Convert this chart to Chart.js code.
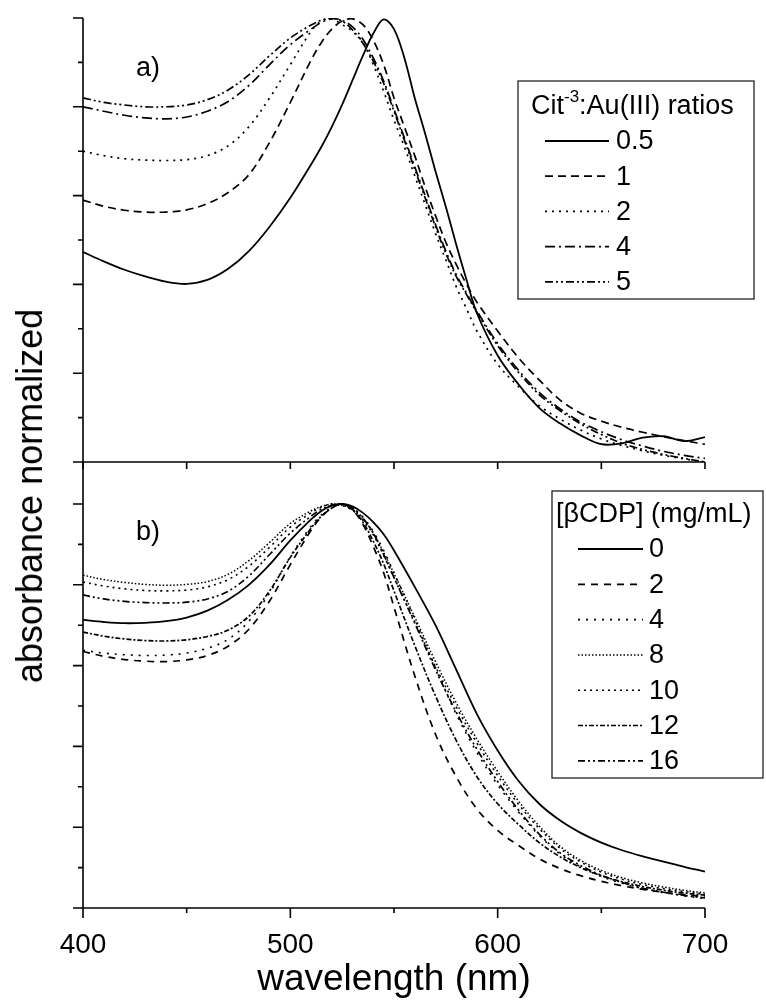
<!DOCTYPE html>
<html>
<head>
<meta charset="utf-8">
<script src="https://cdn.jsdelivr.net/npm/chart.js@4.4.1/dist/chart.umd.min.js"></script>
<style>
body { margin: 0; background: #fff; width: 766px; height: 1006px; overflow: hidden; position: relative; font-family: "Liberation Sans", Arial, sans-serif; }
#chartA { position: absolute; left: 0; top: 0; }
#chartB { position: absolute; left: 0; top: 462px; }
#ytitle { position: absolute; left: 30px; top: 496px; transform: translate(-50%, -50%) rotate(-90deg); font-size: 36px; white-space: nowrap; color: #000; }
</style>
</head>
<body>
<canvas id="chartA" width="766" height="470"></canvas>
<canvas id="chartB" width="766" height="544"></canvas>
<div id="ytitle">absorbance normalized</div>
<script>
// panel a) - citrate : gold ratio
const waveA = [400, 410, 420, 430, 440, 450, 460, 470, 480, 490, 500, 510, 515, 520, 525, 530, 535, 540, 545, 550, 555, 560, 565, 570, 575, 580, 585, 590, 600, 610, 620, 630, 640, 650, 660, 670, 680, 690, 700];
const ratio05 = [0.473, 0.452, 0.433, 0.418, 0.406, 0.401, 0.41, 0.435, 0.475, 0.53, 0.595, 0.67, 0.71, 0.755, 0.805, 0.86, 0.915, 0.965, 0.997, 0.975, 0.91, 0.82, 0.74, 0.655, 0.575, 0.49, 0.41, 0.335, 0.24, 0.175, 0.122, 0.087, 0.06, 0.04, 0.042, 0.055, 0.058, 0.047, 0.056];
const ratio1 = [0.59, 0.576, 0.567, 0.563, 0.563, 0.568, 0.582, 0.607, 0.647, 0.72, 0.81, 0.905, 0.945, 0.975, 0.993, 0.998, 0.985, 0.95, 0.895, 0.82, 0.755, 0.69, 0.62, 0.555, 0.495, 0.445, 0.40, 0.36, 0.295, 0.235, 0.185, 0.14, 0.11, 0.092, 0.078, 0.067, 0.057, 0.048, 0.04];
const ratio2 = [0.70, 0.69, 0.683, 0.68, 0.679, 0.681, 0.69, 0.712, 0.755, 0.82, 0.895, 0.97, 0.993, 0.998, 0.985, 0.97, 0.945, 0.895, 0.835, 0.77, 0.71, 0.645, 0.58, 0.515, 0.455, 0.395, 0.345, 0.295, 0.22, 0.17, 0.127, 0.097, 0.072, 0.052, 0.037, 0.025, 0.015, 0.007, 0.0];
const ratio4 = [0.80, 0.79, 0.781, 0.775, 0.773, 0.777, 0.79, 0.812, 0.848, 0.895, 0.94, 0.975, 0.99, 0.998, 0.995, 0.98, 0.952, 0.91, 0.858, 0.795, 0.73, 0.665, 0.60, 0.535, 0.475, 0.422, 0.38, 0.34, 0.267, 0.207, 0.157, 0.12, 0.09, 0.068, 0.05, 0.036, 0.024, 0.015, 0.008];
const ratio5 = [0.82, 0.81, 0.804, 0.80, 0.80, 0.804, 0.816, 0.838, 0.872, 0.915, 0.955, 0.984, 0.995, 1.0, 0.993, 0.973, 0.943, 0.903, 0.853, 0.79, 0.725, 0.66, 0.595, 0.53, 0.47, 0.418, 0.377, 0.337, 0.262, 0.202, 0.152, 0.116, 0.086, 0.062, 0.042, 0.028, 0.017, 0.008, 0.0];
const labelsA = ["0.5", "1", "2", "4", "5"];

// panel b) - bCDP concentration
const waveB = [400, 410, 420, 430, 440, 450, 460, 470, 480, 490, 500, 510, 515, 520, 525, 530, 535, 540, 545, 550, 560, 570, 580, 590, 600, 610, 620, 630, 640, 650, 660, 670, 680, 690, 700];
const cdp0 = [0.713, 0.708, 0.705, 0.706, 0.71, 0.719, 0.736, 0.763, 0.80, 0.85, 0.91, 0.962, 0.983, 0.996, 1.0, 0.994, 0.978, 0.955, 0.925, 0.885, 0.795, 0.70, 0.59, 0.48, 0.39, 0.315, 0.258, 0.217, 0.186, 0.162, 0.143, 0.128, 0.115, 0.102, 0.09];
const cdp2 = [0.635, 0.623, 0.615, 0.611, 0.61, 0.614, 0.625, 0.648, 0.69, 0.76, 0.85, 0.935, 0.968, 0.99, 1.0, 0.985, 0.95, 0.895, 0.83, 0.745, 0.575, 0.43, 0.325, 0.245, 0.192, 0.155, 0.122, 0.098, 0.08, 0.066, 0.055, 0.046, 0.039, 0.033, 0.028];
const cdp4 = [0.638, 0.631, 0.627, 0.625, 0.626, 0.631, 0.643, 0.665, 0.71, 0.78, 0.87, 0.945, 0.973, 0.992, 1.0, 0.99, 0.968, 0.932, 0.885, 0.83, 0.715, 0.595, 0.48, 0.385, 0.305, 0.238, 0.18, 0.134, 0.102, 0.078, 0.061, 0.048, 0.038, 0.03, 0.023];
const cdp8 = [0.824, 0.813, 0.806, 0.801, 0.799, 0.801, 0.808, 0.826, 0.86, 0.905, 0.952, 0.983, 0.994, 1.0, 0.997, 0.986, 0.963, 0.928, 0.88, 0.828, 0.72, 0.61, 0.508, 0.418, 0.338, 0.265, 0.203, 0.153, 0.118, 0.093, 0.075, 0.062, 0.052, 0.044, 0.037];
const cdp10 = [0.807, 0.797, 0.79, 0.786, 0.785, 0.787, 0.795, 0.813, 0.846, 0.893, 0.943, 0.978, 0.992, 1.0, 0.996, 0.984, 0.96, 0.924, 0.873, 0.818, 0.708, 0.598, 0.498, 0.408, 0.328, 0.257, 0.197, 0.148, 0.114, 0.089, 0.071, 0.058, 0.048, 0.041, 0.034];
const cdp12 = [0.683, 0.673, 0.666, 0.662, 0.661, 0.664, 0.672, 0.688, 0.722, 0.785, 0.868, 0.94, 0.97, 0.99, 1.0, 0.986, 0.955, 0.908, 0.852, 0.785, 0.65, 0.525, 0.415, 0.325, 0.258, 0.207, 0.162, 0.127, 0.10, 0.08, 0.065, 0.053, 0.044, 0.037, 0.032];
const cdp16 = [0.775, 0.765, 0.759, 0.756, 0.755, 0.757, 0.765, 0.784, 0.822, 0.875, 0.928, 0.97, 0.987, 0.997, 1.0, 0.99, 0.965, 0.928, 0.875, 0.818, 0.705, 0.59, 0.485, 0.393, 0.313, 0.243, 0.183, 0.137, 0.105, 0.081, 0.063, 0.049, 0.039, 0.031, 0.025];
const labelsB = ["0", "2", "4", "8", "10", "12", "16"];

const xTicks = [400, 450, 500, 550, 600, 650, 700];
const xLabels = [400, 500, 600, 700];

const FONT = '"Liberation Sans", Arial, sans-serif';
Chart.defaults.font.family = FONT;
Chart.defaults.color = '#000';

function lines(wave, series, labels, dashes, width) {
    return series.map((s, i) => ({
        label: labels[i],
        data: wave.map((w, j) => ({ x: w, y: s[j] })),
        borderColor: '#000',
        borderWidth: width[i],
        borderDash: dashes[i],
        pointRadius: 0,
        fill: false,
        tension: 0.35
    }));
}

// axes, ticks, legend box and panel tag
const framePlugin = {
    id: 'frame',
    afterDraw(chart, args, o) {
        const ctx = chart.ctx, xs = chart.scales.x, ys = chart.scales.y, a = chart.chartArea;
        ctx.save();
        ctx.strokeStyle = '#000';
        ctx.lineWidth = 1.6;
        ctx.setLineDash([]);
        ctx.beginPath();
        ctx.moveTo(a.left, a.top);
        ctx.lineTo(a.left, a.bottom);
        ctx.lineTo(a.right, a.bottom);
        for (let k = 0; k <= 10; k++) {
            const y = ys.getPixelForValue(k / 10);
            ctx.moveTo(a.left, y);
            ctx.lineTo(a.left - (k % 2 === 0 ? 10 : 5), y);
        }
        xTicks.forEach(w => {
            const x = xs.getPixelForValue(w);
            ctx.moveTo(x, a.bottom);
            ctx.lineTo(x, a.bottom + o.xTickLen(w));
        });
        ctx.stroke();

        const L = o.legend;
        ctx.lineWidth = 1.3;
        ctx.strokeStyle = '#222';
        ctx.strokeRect(L.left, L.top, L.right - L.left, L.bottom - L.top);
        ctx.fillStyle = '#000';
        ctx.textBaseline = 'middle';
        ctx.textAlign = 'left';
        let tx = L.titleX;
        L.title.forEach(p => {
            ctx.font = (p.sup ? 17 : L.size) + 'px ' + FONT;
            ctx.fillText(p.t, tx, p.sup ? L.titleY - 10 : L.titleY);
            tx += ctx.measureText(p.t).width;
        });
        ctx.font = L.size + 'px ' + FONT;
        chart.data.datasets.forEach((ds, i) => {
            const y = L.rowY + i * L.rowH;
            ctx.lineWidth = ds.borderWidth;
            ctx.strokeStyle = '#000';
            ctx.setLineDash(ds.borderDash);
            ctx.beginPath();
            ctx.moveTo(L.lineX0, y);
            ctx.lineTo(L.lineX1, y);
            ctx.stroke();
            ctx.fillText(ds.label, L.textX, y + 1);
        });
        ctx.setLineDash([]);
        ctx.font = '27px ' + FONT;
        ctx.fillText(o.tag.text, o.tag.x, o.tag.y);
        ctx.restore();
    }
};

const chartA = new Chart(document.getElementById('chartA'), {
    type: 'line',
    data: {
        datasets: lines(waveA, [ratio05, ratio1, ratio2, ratio4, ratio5], labelsA,
            [[], [8, 5], [2, 5], [10, 4, 2, 4], [8, 3, 2, 3, 2, 3]], [1.8, 1.7, 1.7, 1.7, 1.7])
    },
    options: {
        responsive: false,
        animation: false,
        layout: { padding: { top: 18, right: 61, left: 0, bottom: 0 } },
        plugins: {
            legend: { display: false },
            tooltip: { enabled: false },
            frame: {
                xTickLen: () => 7,
                legend: {
                    left: 518, top: 81, right: 754, bottom: 299, size: 27,
                    title: [{ t: 'Cit' }, { t: '-3', sup: true }, { t: ':Au(III) ratios' }],
                    titleX: 531, titleY: 107, rowY: 141, rowH: 35.2,
                    lineX0: 545, lineX1: 609, textX: 616
                },
                tag: { text: 'a)', x: 136, y: 69 }
            }
        },
        scales: {
            x: { type: 'linear', min: 400, max: 700, ticks: { display: false }, grid: { display: false }, border: { display: false },
                 afterFit(s) { s.height = 8; } },
            y: { min: 0, max: 1.0, ticks: { display: false }, grid: { display: false }, border: { display: false },
                 afterFit(s) { s.width = 83; } }
        }
    },
    plugins: [framePlugin]
});

const chartB = new Chart(document.getElementById('chartB'), {
    type: 'line',
    data: {
        datasets: lines(waveB, [cdp0, cdp2, cdp4, cdp8, cdp10, cdp12, cdp16], labelsB,
            [[], [7, 6], [2, 6], [1.5, 2], [2, 4], [5, 2, 2, 2], [7, 3, 2, 3, 2, 3]], [1.8, 1.7, 1.6, 1.5, 1.6, 1.7, 1.7])
    },
    options: {
        responsive: false,
        animation: false,
        layout: { padding: { top: 0, right: 61, left: 0, bottom: 0 } },
        plugins: {
            legend: { display: false },
            tooltip: { enabled: false },
            frame: {
                xTickLen: w => (w % 100 === 0 ? 10 : 5),
                legend: {
                    left: 552, top: 29, right: 763, bottom: 316, size: 27,
                    title: [{ t: '[\u03b2CDP] (mg/mL)' }],
                    titleX: 556, titleY: 53, rowY: 87, rowH: 35.3,
                    lineX0: 578, lineX1: 643, textX: 649
                },
                tag: { text: 'b)', x: 136, y: 71 }
            }
        },
        scales: {
            x: {
                type: 'linear', min: 400, max: 700,
                afterBuildTicks(s) { s.ticks = xLabels.map(v => ({ value: v })); },
                ticks: { font: { size: 28 }, padding: 12, maxRotation: 0, autoSkip: false },
                grid: { display: false }, border: { display: false },
                title: { display: true, text: 'wavelength (nm)', font: { size: 37 }, padding: { top: 4, bottom: 4 } },
                afterFit(s) { s.height = 98; }
            },
            y: { min: 0, max: 1.104, ticks: { display: false }, grid: { display: false }, border: { display: false },
                 afterFit(s) { s.width = 83; } }
        }
    },
    plugins: [framePlugin]
});
</script>
</body>
</html>
